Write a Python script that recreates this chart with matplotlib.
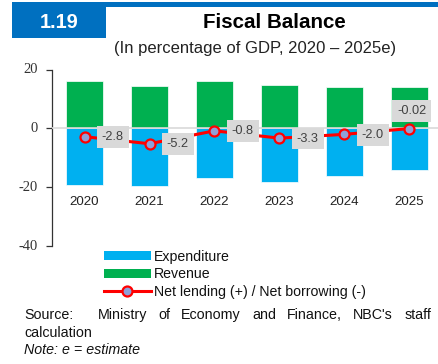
import numpy as np
import matplotlib
matplotlib.use('Agg')
import matplotlib.pyplot as plt
from matplotlib.patches import Rectangle, Patch
from matplotlib.lines import Line2D

years = ['2020', '2021', '2022', '2023', '2024', '2025']
revenue = [16.3, 14.5, 16.2, 14.9, 14.1, 14.2]
expenditure = [-19.1, -19.7, -17.0, -18.2, -16.1, -14.2]
net_lending = [-2.8, -5.2, -0.8, -3.3, -2.0, -0.02]
net_labels = ['-2.8', '-5.2', '-0.8', '-3.3', '-2.0', '-0.02']
y_ticks = [20, 0, -20, -40]

W, H = 438, 364
plt.rcParams['font.family'] = ['Liberation Sans', 'DejaVu Sans']
plt.rcParams['axes.unicode_minus'] = False

fig = plt.figure(figsize=(W / 100, H / 100), dpi=100)

def px(x, y):
    # pixel position (from top-left) -> figure fraction
    return x / W, 1 - y / H

# header: blue number box and top strip
blue = '#0070c0'
fig.patches.append(Rectangle(px(12, 38), 94 / W, 36 / H, transform=fig.transFigure,
                             facecolor=blue, edgecolor='none'))
fig.patches.append(Rectangle(px(106, 7), 332 / W, 5 / H, transform=fig.transFigure,
                             facecolor=blue, edgecolor='none'))
fig.text(*px(59.5, 22.5), '1.19', color='white', fontsize=14.4, fontweight='bold',
         ha='center', va='center')
fig.text(*px(274, 22.5), 'Fiscal Balance', color='black', fontsize=14.8, fontweight='bold',
         ha='center', va='center')
fig.text(*px(254.7, 49), '(In percentage of GDP, 2020 \u2013 2025e)', color='#222222',
         fontsize=12, ha='center', va='center')

# main axes
left, bottom = px(52, 246)
ax = fig.add_axes([left, bottom, 390 / W, (246 - 69.7) / H])
x = np.arange(len(years))
ax.bar(x, expenditure, width=0.575, color='#00b0f0', edgecolor='white', linewidth=0.5, zorder=2)
ax.bar(x, revenue, width=0.575, color='#00b050', edgecolor='white', linewidth=0.5, zorder=2)
ax.axhline(0, color='#d9d9d9', linewidth=1.2, zorder=3)
ax.plot(x, net_lending, color='#ff0000', linewidth=2.2, marker='o', markersize=7.2,
        markerfacecolor='#8f9fd8', markeredgecolor='#ff0000', markeredgewidth=1.6, zorder=4)

for i, (v, lab) in enumerate(zip(net_lending, net_labels)):
    if i == len(years) - 1:
        ax.annotate(lab, (x[i], v), xytext=(1.5, 8.5), textcoords='offset points',
                    ha='center', va='bottom', fontsize=9.2, color='#404040', zorder=5,
                    bbox=dict(boxstyle='square,pad=0.38', facecolor='#d9d9d9', edgecolor='none'))
    else:
        ax.annotate(lab, (x[i], v), xytext=(12.5, -0.3), textcoords='offset points',
                    ha='left', va='center', fontsize=9.2, color='#404040', zorder=5,
                    bbox=dict(boxstyle='square,pad=0.38', facecolor='#d9d9d9', edgecolor='none'))

for i, yr in enumerate(years):
    ax.text(x[i], -25, yr, ha='center', va='center', fontsize=9.6, color='#222222')

ax.set_xlim(-0.5, 5.5)
ax.set_ylim(-40, 20)
ax.set_yticks(y_ticks, labels=[''] * len(y_ticks))
ax.set_xticks([])
for s in ['top', 'right', 'bottom']:
    ax.spines[s].set_visible(False)
ax.spines['left'].set_color('#333333')
ax.spines['left'].set_linewidth(0.9)
ax.tick_params(axis='y', direction='out', length=4.5, width=0.9, color='#333333')
ax.patch.set_visible(False)

# serif y tick labels
for t in y_ticks:
    ax.text(-0.036, t, str(t), transform=ax.get_yaxis_transform(), ha='right', va='center',
            fontsize=10.5, color='#333333', family=['Liberation Serif', 'DejaVu Serif'])

# legend
handles = [Patch(facecolor='#00b0f0', edgecolor='none'),
           Patch(facecolor='#00b050', edgecolor='none'),
           Line2D([], [], color='#ff0000', linewidth=2.2, marker='o', markersize=7.2,
                  markerfacecolor='#8f9fd8', markeredgecolor='#ff0000', markeredgewidth=1.6)]
fig.legend(handles, ['Expenditure', 'Revenue', 'Net lending (+) / Net borrowing (-)'],
           loc='upper left', bbox_to_anchor=px(104, 249.5), frameon=False, fontsize=10.2,
           handlelength=3.3, handleheight=0.6, handletextpad=0.2, labelspacing=0.27,
           borderpad=0, borderaxespad=0, labelcolor='#111111')

# source note, justified across the width
fig.text(*px(24, 315), 'Source:', fontsize=10.3, ha='left', va='center', color='#111111')
words = ['Ministry', 'of', 'Economy', 'and', 'Finance,', "NBC's", 'staff']
word_txt = [fig.text(0, 1 - 315 / H, w, fontsize=10.3, ha='left', va='center', color='#111111')
            for w in words]
fig.canvas.draw()
r = fig.canvas.get_renderer()
widths = [t.get_window_extent(r).width for t in word_txt]
x0, x1 = 97.7, 431
gap = (x1 - x0 - sum(widths)) / (len(words) - 1)
pos = x0
for t, w in zip(word_txt, widths):
    t.set_x(pos / W)
    pos += w + gap
fig.text(*px(24, 333), 'calculation', fontsize=10.3, ha='left', va='center', color='#111111')
fig.text(*px(24, 350.5), 'Note: e = estimate', fontsize=10.3, style='italic',
         ha='left', va='center', color='#111111')

fig.savefig('out.png', dpi=100)
